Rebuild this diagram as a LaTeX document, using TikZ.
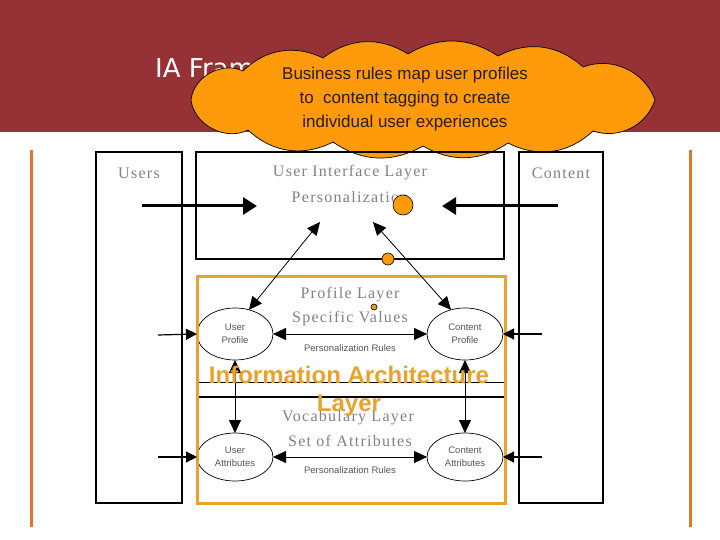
\documentclass[tikz,border=0pt]{standalone}
\usepackage{fontspec}
\usepackage{tikz}
\usetikzlibrary{shapes.geometric,arrows.meta}
\newfontfamily\titlefont{DejaVu Sans}
\newfontfamily\arialfont{Liberation Sans}
\newfontfamily\layerfont[LetterSpace=8]{Liberation Serif}
\definecolor{headred}{RGB}{150,50,54}
\definecolor{cloudorange}{RGB}{255,155,10}
\definecolor{sideorange}{RGB}{222,120,40}
\definecolor{iaorange}{RGB}{232,162,45}
\definecolor{layergray}{RGB}{130,130,130}
\definecolor{smallgray}{RGB}{85,85,85}
\definecolor{clouddark}{RGB}{45,25,5}

\begin{document}
\begin{tikzpicture}[x=1pt,y=-1pt,
    panel/.style={draw=black,line width=1.3pt,inner sep=0pt,outer sep=0pt,anchor=north west},
    layer/.style={font=\layerfont\fontsize{16}{19}\selectfont,text=layergray,inner sep=1pt},
    tag/.style={font=\arialfont\fontsize{9.5}{13}\selectfont,text=smallgray,align=center,inner sep=1pt},
    blob/.style={ellipse,draw=black,line width=0.7pt,minimum width=76pt,minimum height=52pt,inner sep=0pt,outer sep=0pt},
    dot/.style={circle,draw=black,line width=0.6pt,fill=cloudorange,inner sep=0pt},
    bigarrow/.style={line width=3pt,-{Triangle[length=14pt,width=17pt]}},
    thinarrow/.style={line width=0.8pt,{Triangle[length=13pt,width=12pt]}-{Triangle[length=13pt,width=12pt]}},
    sidearrow/.style={line width=1.2pt,-{Triangle[length=11pt,width=11pt]}}]
    \useasboundingbox (0,0) rectangle (720,540);
    \fill[white] (0,0) rectangle (720,540);
    % slide header
    \fill[headred] (0,0) rectangle (720,132);
    \draw[sideorange,line width=3pt] (31,150) -- (31,527);
    \draw[sideorange,line width=3pt] (690,150) -- (690,527);
    \node[anchor=base west,inner sep=0pt,font=\titlefont\fontsize{26}{30}\selectfont,text=white] (title) at (155,78) {IA Framework};
    % callout cloud
    \draw[black,line width=0.7pt,fill=cloudorange]
        (191,100) to[bend left=55] (243,71) to[bend left=35] (323,58) to[bend left=35] (408,54)
        to[bend left=32] (498,56) to[bend left=35] (583,67) to[bend left=45] (655,100)
        to[bend left=45] (593,131) to[bend left=35] (508,143) to[bend left=32] (423,146)
        to[bend left=32] (333,142) to[bend left=35] (248,130) to[bend left=55] (191,100) -- cycle;
    \node[align=center,font=\arialfont\fontsize{17}{24}\selectfont,text=clouddark] (rules) at (405,99)
        {Business rules map user profiles\\to\ \ content tagging to create\\individual user experiences};

    % panels
    \node[panel,minimum width=86pt,minimum height=351pt] (users) at (96,152) {};
    \node[panel,minimum width=308pt,minimum height=107pt] (ui) at (196,152) {};
    \node[panel,minimum width=84pt,minimum height=351pt] (content) at (519,152) {};
    \node[panel,line width=0.8pt,minimum width=308pt,minimum height=106pt] (profile) at (197,276) {};
    \node[panel,minimum width=308pt,minimum height=106pt] (vocab) at (197,397) {};

    \node[layer] (users-lbl) at (139,173) {Users};
    \node[layer] (content-lbl) at (561,173) {Content};
    \node[layer] (ui-lbl) at (350,173) {User Interface Layer};
    \node[layer] (pers-lbl) at (350,197) {Personalization};
    \node[layer] (profile-lbl) at (350,295) {Profile Layer};
    \node[layer] (values-lbl) at (350,319) {Specific Values};
    \node[layer] (vocab-lbl) at (348,418) {Vocabulary Layer};
    \node[layer] (attr-lbl) at (350,441) {Set of Attributes};

    % profile and vocabulary ellipses
    \node[blob] (user-profile) at (235,334) {};
    \node[blob] (content-profile) at (465,334) {};
    \node[blob,minimum height=48pt] (user-attr) at (235,457) {};
    \node[blob,minimum height=48pt] (content-attr) at (465,457) {};
    \node[tag] at (user-profile) {User\\Profile};
    \node[tag] at (content-profile) {Content\\Profile};
    \node[tag] at (user-attr) {User\\Attributes};
    \node[tag] at (content-attr) {Content\\Attributes};
    \node[tag] (rules-top) at (350,348) {Personalization Rules};
    \node[tag] (rules-bot) at (350,470) {Personalization Rules};

    \node[panel,draw=iaorange,line width=3pt,minimum width=308pt,minimum height=227pt] (ia) at (197,276) {};

    % connectors
    \coordinate (users-src) at (142,206);
    \coordinate (ui-left) at (257,206);
    \coordinate (content-src) at (558,206);
    \coordinate (ui-right) at (442,206);
    \coordinate (ui-low1) at (320,222);
    \coordinate (ui-low2) at (373,222);
    \coordinate (users-out1) at (158,335);
    \coordinate (users-out2) at (158,457);
    \coordinate (content-out1) at (542,334);
    \coordinate (content-out2) at (542,457);
    \draw[bigarrow] (users-src) -- (ui-left);
    \draw[bigarrow] (content-src) -- (ui-right);
    \draw[thinarrow] (user-profile.60) -- (ui-low1);
    \draw[thinarrow] (ui-low2) -- (content-profile.120);
    \draw[thinarrow] (user-profile.east) -- (content-profile.west);
    \draw[thinarrow] (user-attr.east) -- (content-attr.west);
    \draw[thinarrow] (user-profile.south) -- (user-attr.north);
    \draw[thinarrow] (content-profile.south) -- (content-attr.north);
    \draw[sidearrow] (users-out1) -- (user-profile.west);
    \draw[sidearrow] (users-out2) -- (user-attr.west);
    \draw[sidearrow] (content-out1) -- (content-profile.east);
    \draw[sidearrow] (content-out2) -- (content-attr.east);

    \node[dot,minimum size=20pt] (dot1) at (403,205) {};
    \node[dot,minimum size=12pt] (dot2) at (388,259) {};
    \node[dot,minimum size=6pt] (dot3) at (374,307) {};

    \node[align=center,font=\arialfont\bfseries\fontsize{24}{28}\selectfont,text=iaorange] (ia-lbl) at (349,391)
        {Information Architecture\\Layer};
\end{tikzpicture}
\end{document}
